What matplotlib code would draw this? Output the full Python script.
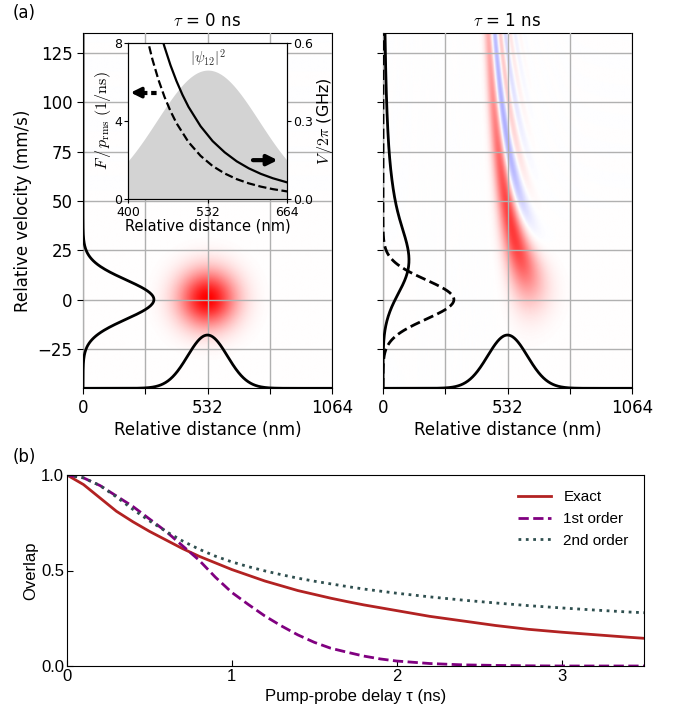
import numpy as np
import matplotlib
matplotlib.use("Agg")
import matplotlib.pyplot as plt

plt.rcParams['font.family'] = ['DejaVu Sans']
plt.rcParams['mathtext.fontset'] = 'cm'

# ---------------- data ----------------
# (b) overlap vs pump-probe delay
tau_ns = [0.0, 0.1, 0.2, 0.3, 0.4, 0.5, 0.6, 0.7, 0.8, 0.9, 1.0, 1.1, 1.2, 1.3, 1.4,
          1.5, 1.6, 1.7, 1.8, 1.9, 2.0, 2.2, 2.4, 2.6, 2.8, 3.0, 3.2, 3.4, 3.5]
overlap_exact = [1.0, 0.95, 0.88, 0.81, 0.755, 0.705, 0.66, 0.615, 0.575, 0.54, 0.505,
                 0.475, 0.445, 0.42, 0.395, 0.375, 0.355, 0.337, 0.32, 0.305, 0.29,
                 0.26, 0.236, 0.212, 0.192, 0.177, 0.164, 0.151, 0.145]
overlap_1st = [1.0, 0.985, 0.945, 0.89, 0.835, 0.77, 0.705, 0.63, 0.555, 0.465, 0.385,
               0.322, 0.262, 0.21, 0.163, 0.124, 0.093, 0.072, 0.052, 0.037, 0.026,
               0.013, 0.006, 0.003, 0.001, 0.0, 0.0, 0.0, 0.0]
overlap_2nd = [1.0, 0.985, 0.945, 0.885, 0.82, 0.76, 0.705, 0.655, 0.612, 0.575, 0.545,
               0.52, 0.498, 0.478, 0.46, 0.444, 0.43, 0.416, 0.403, 0.392, 0.381,
               0.362, 0.345, 0.33, 0.316, 0.304, 0.293, 0.283, 0.279]
legend_labels = ["Exact", "1st order", "2nd order"]

# inset: potential V/2pi (GHz) and force F/p_rms (1/ns) vs distance
inset_r_V = [455, 460, 470, 480, 490, 500, 520, 540, 560, 580, 600, 620, 640, 664]
inset_V = [0.624, 0.585, 0.514, 0.453, 0.400, 0.354, 0.280, 0.223, 0.180, 0.1455,
           0.1187, 0.0975, 0.0806, 0.0646]
inset_r_F = [430, 440, 450, 460, 470, 480, 500, 520, 540, 560, 580, 600, 620, 640, 664]
inset_F = [8.40, 7.15, 6.11, 5.24, 4.51, 3.89, 2.92, 2.22, 1.70, 1.32, 1.03, 0.815,
           0.648, 0.519, 0.401]
psi_peak = 6.6            # peak of |psi_12|^2 shading (left inset axis units)

# (a) phase-space model parameters
pos_center = 532.0        # nm
pos_sigma = 85.0          # nm
vel_sigma = 10.0          # mm/s
kick_ref_dist = 501.0     # nm
kick_ref_vel = 50.0       # mm/s velocity kick at kick_ref_dist after 1 ns
kick_exponent = 7
vel_marg_peak = 303.0     # nm-axis height of initial velocity marginal
pos_marg_height = 27.0    # mm/s-axis height of position marginal
titles = [r"$\tau$ = 0 ns", r"$\tau$ = 1 ns"]

# ---------------- Wigner functions ----------------
xg = np.linspace(0, 1064, 420)
vg = np.linspace(-45, 135, 380)
yg = np.linspace(-700, 700, 601)
dy = yg[1] - yg[0]
kappa = 1.0 / (2 * pos_sigma * vel_sigma)


def psi0(x):
    return np.exp(-(x - pos_center) ** 2 / (4 * pos_sigma ** 2))


def phase(x):
    x = np.clip(x, 150, None)
    return -(kappa * kick_ref_vel * kick_ref_dist / (kick_exponent - 1)) * \
        (kick_ref_dist / x) ** (kick_exponent - 1)


X = xg[:, None]
Y = yg[None, :]
amp = psi0(X + Y / 2) * psi0(X - Y / 2)
E = np.exp(1j * kappa * yg[:, None] * vg[None, :])
W0 = np.real((amp + 0j) @ E) * dy
G1 = amp * np.exp(-1j * (phase(X + Y / 2) - phase(X - Y / 2)))
W1 = np.real(G1 @ E) * dy
norm = W0.max()
W0 /= norm
W1 /= norm

dx = xg[1] - xg[0]
P0 = W0.sum(axis=0) * dx
P1 = W1.sum(axis=0) * dx
sc = vel_marg_peak / P0.max()
rho = np.exp(-(xg - pos_center) ** 2 / (2 * pos_sigma ** 2))

# ---------------- figure ----------------
fig = plt.figure(figsize=(6.81, 7.10), dpi=100)
W_, H_ = 681, 710


def box(l, t, r, b):
    return [l / W_, (H_ - b) / H_, (r - l) / W_, (b - t) / H_]


ax1 = fig.add_axes(box(83, 33.3, 332, 388.3))
ax2 = fig.add_axes(box(383, 33.3, 632, 388.3))

for i, (ax, W) in enumerate([(ax1, W0), (ax2, W1)]):
    ax.imshow(W.T, origin='lower', extent=[0, 1064, -45, 135], aspect='auto',
              cmap='bwr', vmin=-1, vmax=1, interpolation='bilinear', zorder=0)
    ax.set_xlim(0, 1064)
    ax.set_ylim(-45, 135)
    ax.set_xticks([0, 266, 532, 798, 1064])
    ax.set_xticklabels(['0', '', '532', '', '1064'])
    ax.set_yticks([-25, 0, 25, 50, 75, 100, 125])
    ax.grid(True, color='#b0b0b0', lw=1.0)
    ax.set_axisbelow(False)
    ax.tick_params(labelsize=12, length=4)
    ax.set_xlabel("Relative distance (nm)", fontsize=12, labelpad=3)
    ax.set_title(titles[i], fontsize=12, pad=5)
    ax.plot(xg, -45 + pos_marg_height * rho, color='k', lw=2, zorder=3)
    if i == 0:
        ax.plot(P0 * sc, vg, color='k', lw=2, zorder=3)
        ax.set_ylabel("Relative velocity (mm/s)", fontsize=12, labelpad=4)
    else:
        ax.plot(P1 * sc, vg, color='k', lw=2, zorder=3)
        ax.plot(P0 * sc, vg, color='k', lw=2, ls='--', zorder=3)
        ax.set_yticklabels([])

# inset
axin = fig.add_axes(box(128.3, 42.7, 287.3, 199.3))
xr = np.linspace(400, 664, 200)
axin.fill_between(xr, 0, psi_peak * np.exp(-(xr - pos_center) ** 2 / (2 * pos_sigma ** 2)),
                  color='#d3d3d3', lw=0)
axin.plot(inset_r_F, inset_F, color='k', lw=1.6, ls='--')
axin.set_xlim(400, 664)
axin.set_ylim(0, 8)
axin.set_xticks([400, 532, 664])
axin.set_yticks([0, 4, 8])
axin.tick_params(labelsize=9, length=3, pad=1.5)
axin.set_xlabel("Relative distance (nm)", fontsize=10.5, labelpad=0)
axin.set_ylabel(r"$F\,/\,p_{\rm rms}\ (1/{\rm ns})$", fontsize=11.5, labelpad=1)
axin.text(532, 7.25, r"$|\psi_{12}|^2$", fontsize=10.5, color='#333333', ha='center', va='center')
axin.plot([422, 447], [5.45, 5.45], color='k', lw=3, ls=(0, (1.3, 0.9)), solid_capstyle='butt')
axin.annotate('', xy=(404, 5.45), xytext=(424, 5.45),
              arrowprops=dict(arrowstyle='-|>,head_width=0.3,head_length=0.6',
                              color='k', lw=2.5, mutation_scale=10, shrinkA=0, shrinkB=0))
axin.annotate('', xy=(648, 2.0), xytext=(607, 2.0),
              arrowprops=dict(arrowstyle='-|>,head_width=0.3,head_length=0.6',
                              color='k', lw=3, mutation_scale=10, shrinkA=0, shrinkB=0))
axin2 = axin.twinx()
axin2.plot(inset_r_V, inset_V, color='k', lw=1.6)
axin2.set_ylim(0, 0.6)
axin2.set_yticks([0.0, 0.3, 0.6])
axin2.tick_params(labelsize=9, length=3, pad=1.5)
axin2.set_ylabel(r"$V\,/2\pi$ (GHz)", fontsize=11.5, labelpad=1)

# panel (b)
axb = fig.add_axes(box(67, 475, 644, 666))
LS = 'Liberation Sans'
axb.plot(tau_ns, overlap_exact, color='#b22222', lw=2, label=legend_labels[0])
axb.plot(tau_ns, overlap_1st, color='#800080', lw=2, ls='--', label=legend_labels[1])
axb.plot(tau_ns, overlap_2nd, color='#2f4f4f', lw=2, ls=':', label=legend_labels[2])
axb.set_xlim(0, 3.5)
axb.set_ylim(0, 1.0)
axb.set_xticks([0, 1, 2, 3])
axb.set_yticks([0.0, 0.5, 1.0])
axb.tick_params(direction='in', labelsize=12, length=4, pad=2, labelfontfamily=LS)
axb.set_xlabel("Pump-probe delay τ (ns)", fontsize=12, fontfamily=LS, labelpad=4)
axb.set_ylabel("Overlap", fontsize=12, fontfamily=LS, labelpad=2)
axb.legend(loc='upper right', frameon=False, prop={'family': LS, 'size': 11},
           handlelength=2.2, borderaxespad=0.6)

fig.text(13 / W_, 1 - 13 / H_, "(a)", fontsize=12, va='center', ha='left')
fig.text(13 / W_, 1 - 457 / H_, "(b)", fontsize=12, va='center', ha='left')

fig.savefig("out.png", dpi=100)
